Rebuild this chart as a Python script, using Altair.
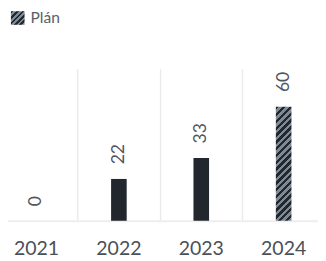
import altair as alt
import pandas as pd

years = ["2021", "2022", "2023", "2024"]
values = [0, 22, 33, 60]
types = ["Skutečnost", "Skutečnost", "Skutečnost", "Plán"]

DARK = "#22272e"
GRAY = "#7d8995"
TEXT = "#4a5058"

df = pd.DataFrame({"year": years, "value": values, "type": types})

H = 156
YMAX = 80
BAR_W = 16


def stripe_stops(k):
    stops = []
    for j in range(k):
        a, m, b = j / k, (j + 0.5) / k, (j + 1) / k
        stops += [(a, DARK), (m, DARK), (m, GRAY), (b, GRAY)]
    return stops


def bar_gradient(w, h, k):
    r = w / h
    bb = (1 + r) / (1 + r * r)
    return {
        "gradient": "linear",
        "x1": 0, "y1": 0, "x2": r * bb, "y2": bb,
        "stops": [{"offset": o, "color": c} for o, c in stripe_stops(k)],
    }


plan_h = values[3] * H / YMAX
grad_bar = bar_gradient(BAR_W, plan_h, 19)

sq_stops = ",".join("{offset:%g,color:'%s'}" % (o, c) for o, c in stripe_stops(5))
sq_expr = "{gradient:'linear',x1:0,y1:0,x2:1,y2:1,stops:[%s]}" % sq_stops

x_enc = alt.X(
    "year:N",
    sort=years,
    scale=alt.Scale(range=[-13, 325], paddingInner=0, paddingOuter=0),
    axis=alt.Axis(
        title=None, grid=True, bandPosition=0, gridColor="#ebebeb", gridWidth=1.5,
        domainColor="#eeeeee", domainWidth=2, ticks=False, labelAngle=0,
        labelFont="Lato", labelFontSize=20, labelColor=TEXT, labelPadding=19,
    ),
)
y_enc = alt.Y("value:Q", scale=alt.Scale(domain=[0, YMAX]), axis=None)

base = alt.Chart(df).encode(x=x_enc, y=y_enc)

actual = base.transform_filter(alt.datum.type == "Skutečnost").mark_bar(size=BAR_W, fill=DARK)
plan = base.transform_filter(alt.datum.type == "Plán").mark_bar(size=BAR_W, fill=grad_bar)

labels = base.mark_text(
    angle=270, align="left", baseline="middle", dx=15,
    font="Lato", fontSize=18, color="#50565d",
).encode(text="value:Q")

legend_layer = base.transform_filter(alt.datum.type == "Plán").mark_square(opacity=0).encode(
    fill=alt.Fill(
        "type:N",
        scale=alt.Scale(domain=["Plán"], range=[{"expr": sq_expr}]),
        legend=alt.Legend(
            title=None, orient="none", legendX=2, legendY=-60, padding=0,
            symbolType="square", symbolSize=196, symbolOpacity=1, symbolStrokeWidth=0,
            labelFont="Lato", labelFontSize=16, labelColor="#5b6168", labelOffset=5,
        ),
    )
)

chart = alt.layer(actual, plan, labels, legend_layer).properties(
    width=318, height=H,
    autosize=alt.AutoSizeParams(type="none"),
    padding={"left": 0, "top": 59, "right": 0, "bottom": 38},
).configure_view(stroke=None)

chart.save("out.html", embed_options={"renderer": "svg", "actions": False})
